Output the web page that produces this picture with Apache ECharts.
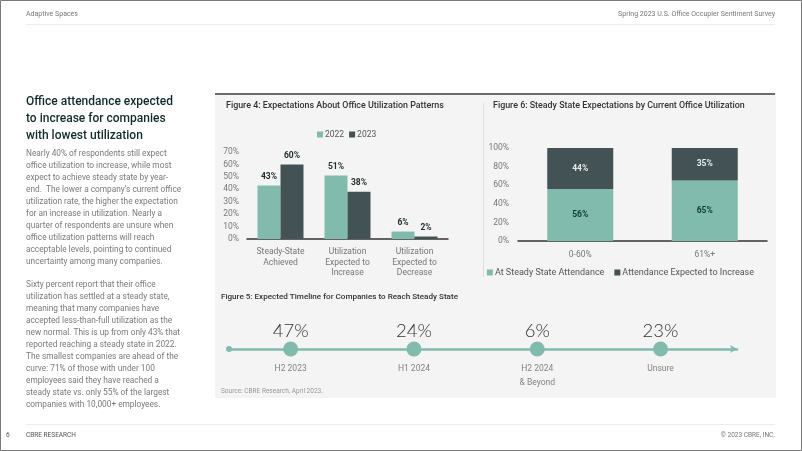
<!DOCTYPE html>
<html><head><meta charset="utf-8">
<script src="https://cdn.jsdelivr.net/npm/echarts@6/dist/echarts.min.js"></script>
<style>html,body{margin:0;padding:0;background:#fff}#c{width:802px;height:451px}</style>
</head><body><div id="c"></div>
<script>
// ---- Data ----
const fig4Categories = ['Steady-State\nAchieved', 'Utilization\nExpected to\nIncrease', 'Utilization\nExpected to\nDecrease'];
const fig4Values2022 = [43, 51, 6];
const fig4Values2023 = [60, 38, 2];
const fig4Ticks = [0, 10, 20, 30, 40, 50, 60, 70];

const fig6Categories = ['0-60%', '61%+'];
const fig6Steady = [56, 65];
const fig6Increase = [44, 35];
const fig6Ticks = [0, 20, 40, 60, 80, 100];

const fig5Categories = ['H2 2023', 'H1 2024', 'H2 2024\n& Beyond', 'Unsure'];
const fig5Values = [47, 24, 6, 23];

const headline = ['Office attendance expected', 'to increase for companies', 'with lowest utilization'];
const para1 = ['Nearly 40% of respondents still expect', 'office utilization to increase, while most', 'expect to achieve steady state by year-', 'end.  The lower a company\u2019s current office', 'utilization rate, the higher the expectation', 'for an increase in utilization. Nearly a', 'quarter of respondents are unsure when', 'office utilization patterns will reach', 'acceptable levels, pointing to continued', 'uncertainty among many companies.'];
const para2 = ['Sixty percent report that their office', 'utilization has settled at a steady state,', 'meaning that many companies have', 'accepted less-than-full utilization as the', 'new normal. This is up from only 43% that', 'reported reaching a steady state in 2022.', 'The smallest companies are ahead of the', 'curve: 71% of those with under 100', 'employees said they have reached a', 'steady state vs. only 55% of the largest', 'companies with 10,000+ employees.'];

// ---- Style ----
const TEAL = '#80BBAD';
const DARK = '#435254';
const FONT = 'Roboto, "Noto Sans", sans-serif';

const chart = echarts.init(document.getElementById('c'));

const axisLabelStyle = { color: '#777', fontSize: 8.5, fontFamily: FONT };

const option = {
  animation: false,
  textStyle: { fontFamily: FONT },
  graphic: [
    { type: 'rect', z: -10, shape: { x: 0.5, y: 0.5, width: 801, height: 450 }, style: { fill: '#fff', stroke: '#7a7a7a', lineWidth: 1 } },
    { type: 'text', z: -5, left: 26, top: 11, style: { text: 'Adaptive Spaces', fill: '#777', fontSize: 7, fontFamily: FONT } },
    { type: 'text', z: -5, right: 27, top: 11, style: { text: 'Spring 2023 U.S. Office Occupier Sentiment Survey', fill: '#777', fontSize: 7, fontFamily: FONT } },
    { type: 'rect', z: -5, shape: { x: 26, y: 24, width: 749, height: 1 }, style: { fill: '#ececec' } },
    { type: 'rect', z: -5, shape: { x: 26, y: 424, width: 749, height: 1 }, style: { fill: '#ececec' } },
    { type: 'text', z: -5, left: 6, top: 432, style: { text: '6', fill: '#555', fontSize: 6.5, fontFamily: FONT } },
    { type: 'text', z: -5, left: 26, top: 432, style: { text: 'CBRE RESEARCH', fill: '#555', fontSize: 6.5, fontFamily: FONT } },
    { type: 'text', z: -5, right: 27, top: 432, style: { text: '\u00A9 2023 CBRE, INC.', fill: '#777', fontSize: 6.5, fontFamily: FONT } },
    // left text column
    { type: 'text', z: -5, left: 26, top: 93, style: { text: headline.join('\n'), fill: '#0f2b2b', fontSize: 12, fontWeight: 500, lineHeight: 17, fontFamily: FONT } },
    { type: 'text', z: -5, left: 26, top: 148, style: { text: para1.join('\n'), fill: '#7a7a7a', fontSize: 8.3, lineHeight: 12, fontFamily: FONT } },
    { type: 'text', z: -5, left: 26, top: 279, style: { text: para2.join('\n'), fill: '#7a7a7a', fontSize: 8.3, lineHeight: 12, fontFamily: FONT } },
    // panel
    { type: 'rect', z: -8, shape: { x: 215, y: 93, width: 561, height: 305 }, style: { fill: '#f4f4f4' } },
    { type: 'rect', z: -7, shape: { x: 215, y: 93, width: 560, height: 2 }, style: { fill: '#6b6b6b' } },
    { type: 'rect', z: -7, shape: { x: 483, y: 103, width: 1, height: 174 }, style: { fill: '#dedede' } },
    { type: 'text', z: -5, left: 226, top: 101, style: { text: 'Figure 4: Expectations About Office Utilization Patterns', fill: '#333', fontSize: 8.9, fontWeight: 500, fontFamily: FONT } },
    { type: 'text', z: -5, left: 493, top: 101, style: { text: 'Figure 6: Steady State Expectations by Current Office Utilization', fill: '#333', fontSize: 8.9, fontWeight: 500, fontFamily: FONT } },
    { type: 'text', z: -5, left: 221, top: 293, style: { text: 'Figure 5: Expected Timeline for Companies to Reach Steady State', fill: '#333', fontSize: 8.1, fontWeight: 500, fontFamily: FONT } },
    { type: 'text', z: -5, left: 221, top: 388, style: { text: 'Source: CBRE Research, April 2023.', fill: '#999', fontSize: 6.5, fontFamily: FONT } }
  ],
  legend: [
    { left: 312, top: 125, itemWidth: 6, itemHeight: 6, itemGap: 5, icon: 'rect', data: ['2022', '2023'],
      textStyle: { color: '#555', fontSize: 8.5, fontFamily: FONT, padding: [0, 0, 0, -3] } },
    { right: 43, top: 263, itemWidth: 6, itemHeight: 6, itemGap: 10, icon: 'rect', data: ['At Steady State Attendance', 'Attendance Expected to Increase'],
      textStyle: { color: '#555', fontSize: 9, fontFamily: FONT, padding: [0, 0, 0, -3] } }
  ],
  grid: [
    { left: 247, top: 152, width: 201, height: 87 },
    { left: 518, top: 148, width: 249, height: 93 },
    { left: 229, top: 329, width: 508, height: 40 }
  ],
  xAxis: [
    { gridIndex: 0, type: 'category', data: fig4Categories,
      axisLine: { lineStyle: { color: '#333', width: 1.5 } }, axisTick: { show: false },
      axisLabel: Object.assign({}, axisLabelStyle, { margin: 8, lineHeight: 10.5, interval: 0 }) },
    { gridIndex: 1, type: 'category', data: fig6Categories,
      axisLine: { lineStyle: { color: '#333', width: 1.5 } }, axisTick: { show: false },
      axisLabel: Object.assign({}, axisLabelStyle, { margin: 9 }) },
    { gridIndex: 2, type: 'value', min: -0.5, max: 3.62,
      axisLine: { show: true, onZero: true, symbol: ['circle', 'arrow'], symbolSize: [6, 7], lineStyle: { color: TEAL, width: 2.5 } },
      axisTick: { show: false }, axisLabel: { show: false }, splitLine: { show: false } }
  ],
  yAxis: [
    { gridIndex: 0, type: 'value', min: fig4Ticks[0], max: fig4Ticks[fig4Ticks.length - 1], interval: 10,
      axisLine: { show: false }, axisTick: { show: false }, splitLine: { show: false },
      axisLabel: Object.assign({}, axisLabelStyle, { formatter: '{value}%', margin: 8 }) },
    { gridIndex: 1, type: 'value', min: fig6Ticks[0], max: fig6Ticks[fig6Ticks.length - 1], interval: 20,
      axisLine: { show: false }, axisTick: { show: false }, splitLine: { show: false },
      axisLabel: Object.assign({}, axisLabelStyle, { formatter: '{value}%', margin: 9 }) },
    { gridIndex: 2, type: 'value', min: -1, max: 1, show: false }
  ],
  series: [
    { name: '2022', type: 'bar', xAxisIndex: 0, yAxisIndex: 0, data: fig4Values2022, barWidth: 23, barGap: '0%',
      itemStyle: { color: TEAL },
      label: { show: true, position: 'top', formatter: '{c}%', color: '#1d2b2b', fontSize: 8.5, fontWeight: 'bold', distance: 4 } },
    { name: '2023', type: 'bar', xAxisIndex: 0, yAxisIndex: 0, data: fig4Values2023, barWidth: 23, barGap: '0%',
      itemStyle: { color: DARK },
      label: { show: true, position: 'top', formatter: '{c}%', color: '#1d2b2b', fontSize: 8.5, fontWeight: 'bold', distance: 4 } },
    { name: 'At Steady State Attendance', type: 'bar', stack: 'f6', xAxisIndex: 1, yAxisIndex: 1, data: fig6Steady, barWidth: 66,
      itemStyle: { color: TEAL },
      label: { show: true, position: 'inside', formatter: '{c}%', color: '#0f3a30', fontSize: 8.5, fontWeight: 'bold' } },
    { name: 'Attendance Expected to Increase', type: 'bar', stack: 'f6', xAxisIndex: 1, yAxisIndex: 1, data: fig6Increase, barWidth: 66,
      itemStyle: { color: DARK },
      label: { show: true, position: 'inside', formatter: '{c}%', color: '#e8ecea', fontSize: 8.5, fontWeight: 'bold' } },
    { name: 'timeline', type: 'scatter', xAxisIndex: 2, yAxisIndex: 2, symbolSize: 15, z: 3,
      data: fig5Values.map((v, i) => ({ value: [i, 0], pct: v })),
      itemStyle: { color: TEAL, opacity: 1 },
      label: { show: true, position: 'top', distance: 1, formatter: p => p.data.pct + '%', color: '#333', fontSize: 18.5, fontWeight: 300, fontFamily: 'Lato, ' + FONT } },
    { name: 'timelineLabels', type: 'scatter', xAxisIndex: 2, yAxisIndex: 2, symbolSize: 15, z: 2,
      data: fig5Categories.map((c, i) => ({ value: [i, 0], cat: c })),
      itemStyle: { color: 'rgba(0,0,0,0)' },
      label: { show: true, position: 'bottom', distance: 5, formatter: p => p.data.cat, color: '#666', fontSize: 8.5, lineHeight: 14, align: 'center' } }
  ]
};
chart.setOption(option);
</script></body></html>
